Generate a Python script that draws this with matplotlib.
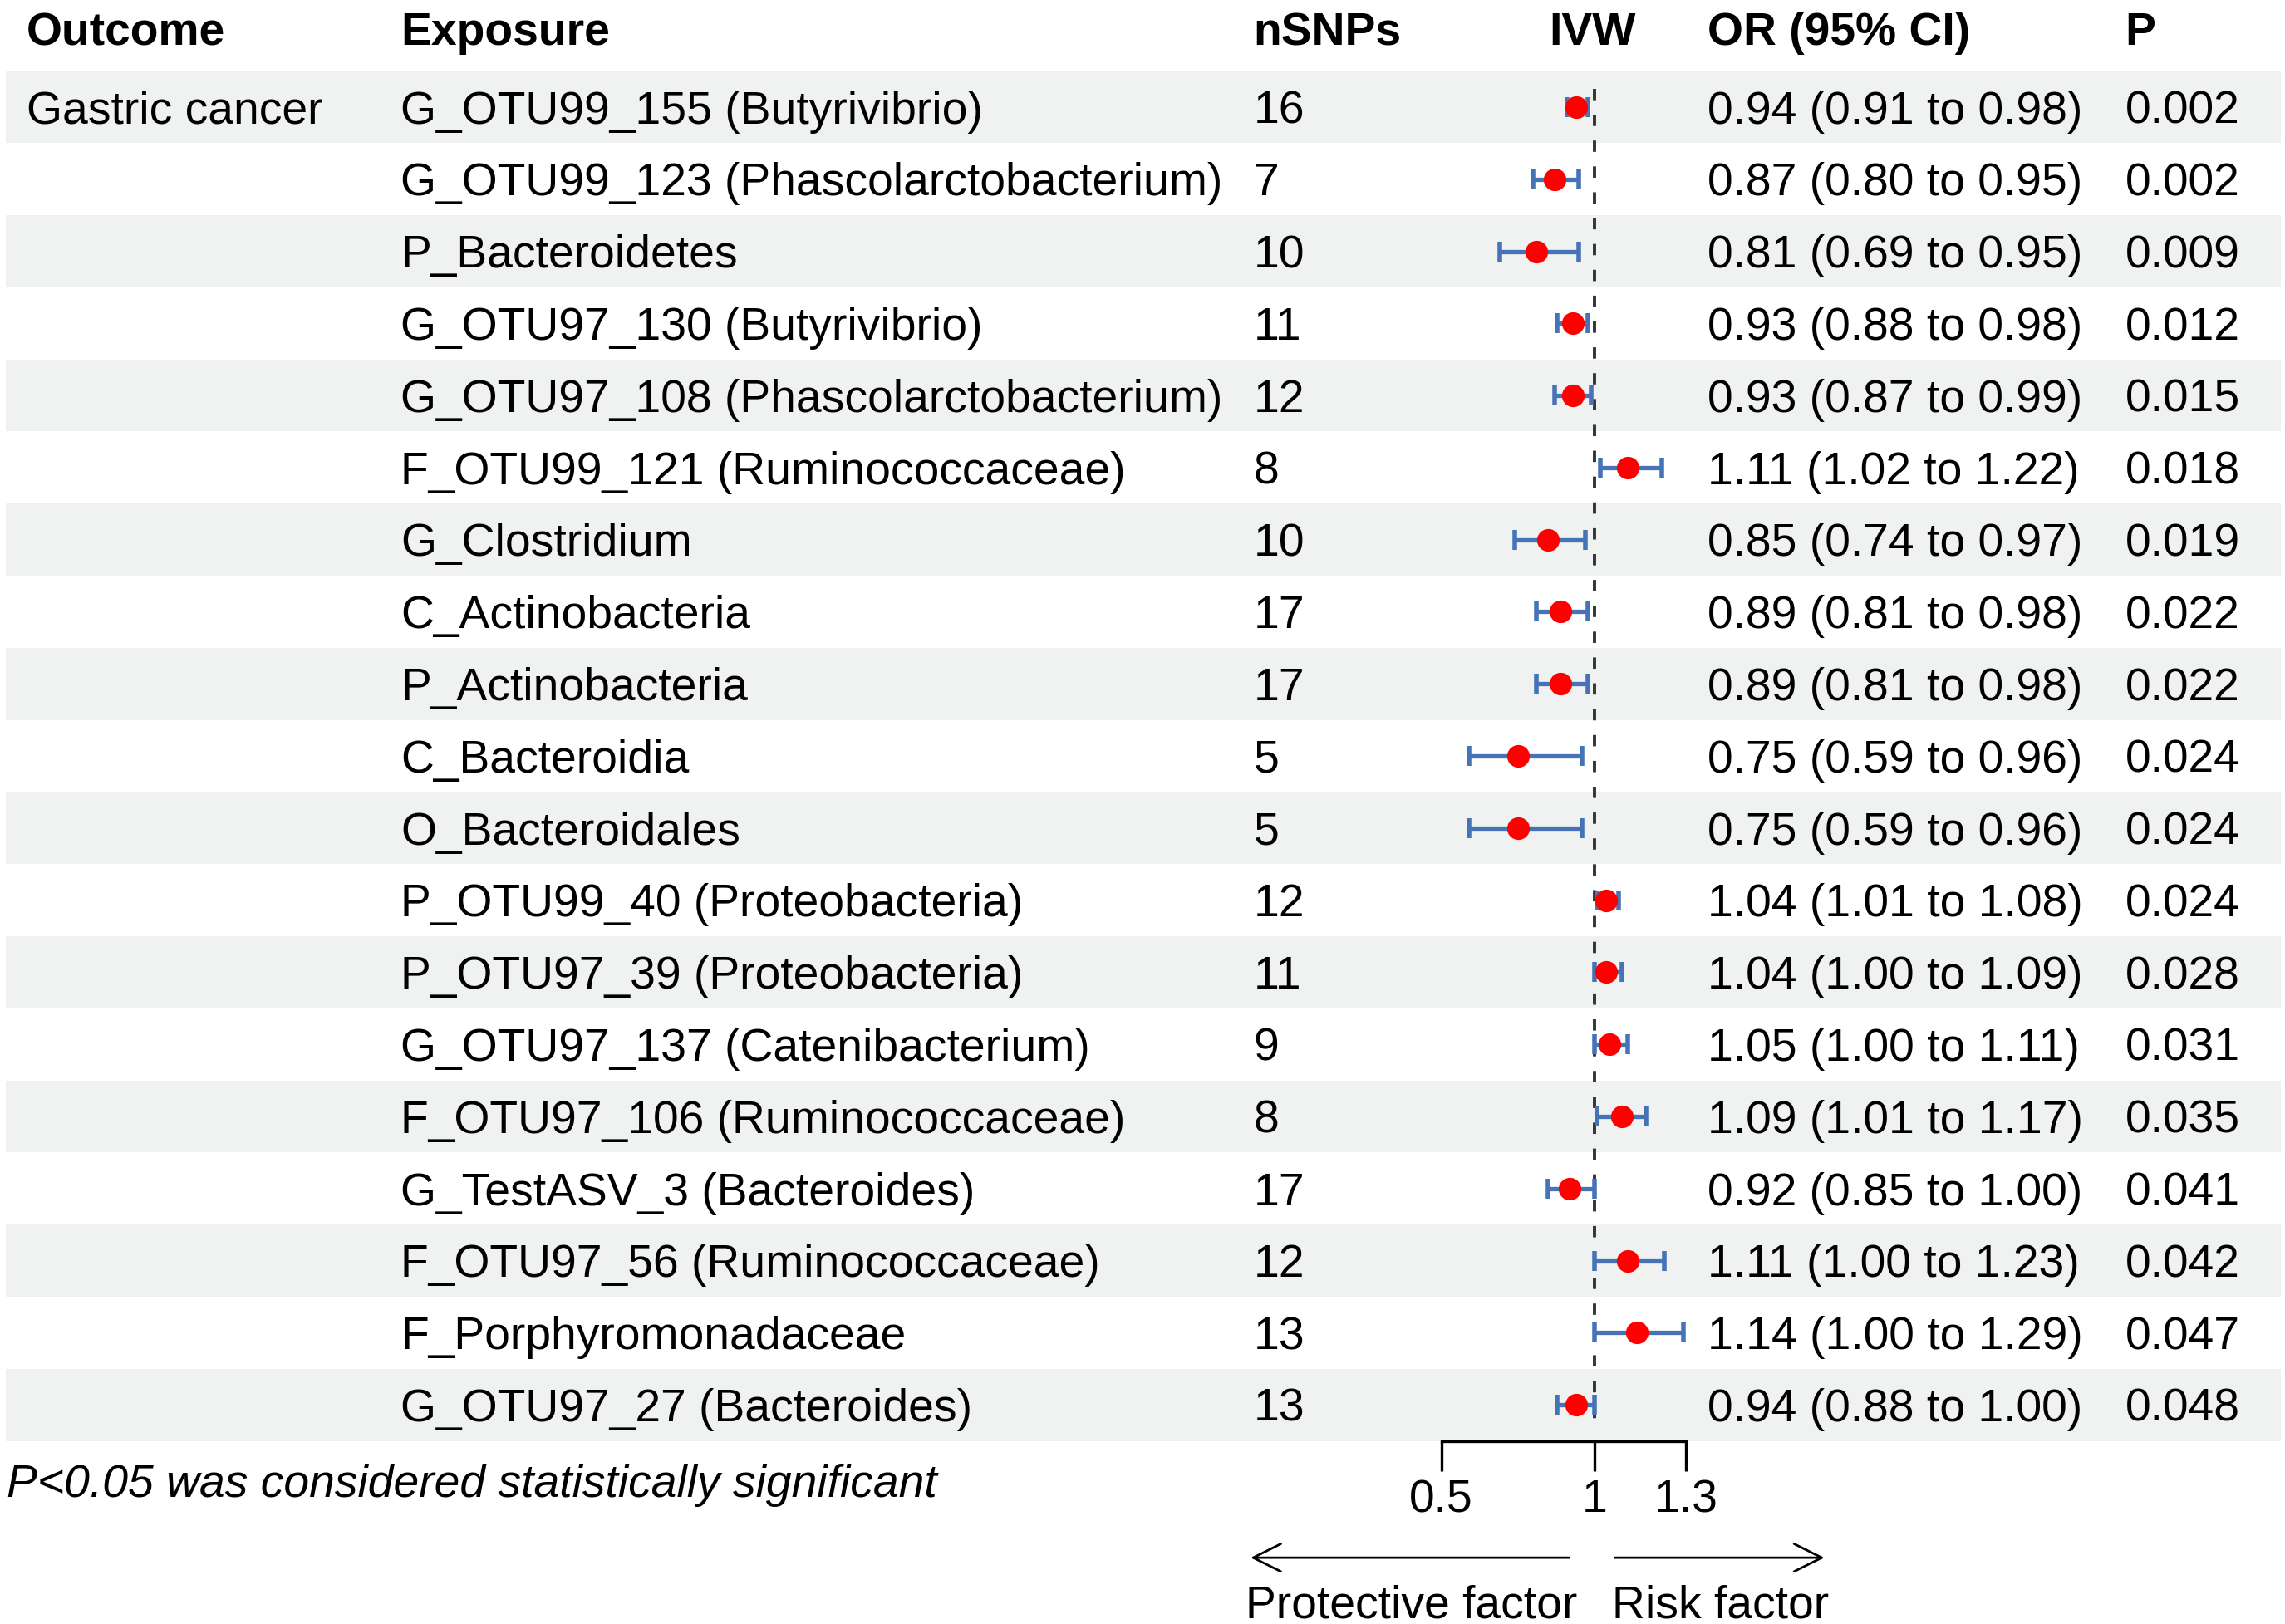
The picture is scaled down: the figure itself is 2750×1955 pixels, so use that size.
import matplotlib
matplotlib.use("Agg")
import matplotlib.pyplot as plt

plt.rcParams['font.family'] = ['Liberation Sans', 'DejaVu Sans']

# data
outcome = "Gastric cancer"
exposures = [
    "G_OTU99_155 (Butyrivibrio)", "G_OTU99_123 (Phascolarctobacterium)",
    "P_Bacteroidetes", "G_OTU97_130 (Butyrivibrio)",
    "G_OTU97_108 (Phascolarctobacterium)", "F_OTU99_121 (Ruminococcaceae)",
    "G_Clostridium", "C_Actinobacteria", "P_Actinobacteria", "C_Bacteroidia",
    "O_Bacteroidales", "P_OTU99_40 (Proteobacteria)",
    "P_OTU97_39 (Proteobacteria)", "G_OTU97_137 (Catenibacterium)",
    "F_OTU97_106 (Ruminococcaceae)", "G_TestASV_3 (Bacteroides)",
    "F_OTU97_56 (Ruminococcaceae)", "F_Porphyromonadaceae",
    "G_OTU97_27 (Bacteroides)",
]
nsnps = [16, 7, 10, 11, 12, 8, 10, 17, 17, 5, 5, 12, 11, 9, 8, 17, 12, 13, 13]
odds = [0.94, 0.87, 0.81, 0.93, 0.93, 1.11, 0.85, 0.89, 0.89, 0.75,
        0.75, 1.04, 1.04, 1.05, 1.09, 0.92, 1.11, 1.14, 0.94]
ci_lo = [0.91, 0.80, 0.69, 0.88, 0.87, 1.02, 0.74, 0.81, 0.81, 0.59,
         0.59, 1.01, 1.00, 1.00, 1.01, 0.85, 1.00, 1.00, 0.88]
ci_hi = [0.98, 0.95, 0.95, 0.98, 0.99, 1.22, 0.97, 0.98, 0.98, 0.96,
         0.96, 1.08, 1.09, 1.11, 1.17, 1.00, 1.23, 1.29, 1.00]
pvals = ["0.002", "0.002", "0.009", "0.012", "0.015", "0.018", "0.019",
         "0.022", "0.022", "0.024", "0.024", "0.024", "0.028", "0.031",
         "0.035", "0.041", "0.042", "0.047", "0.048"]
headers = ["Outcome", "Exposure", "nSNPs", "IVW", "OR (95% CI)", "P"]
ticks = [0.5, 1, 1.3]

n = len(exposures)
rows = list(range(n))

fig = plt.figure(figsize=(13.75, 9.78), dpi=200)
ax = fig.add_axes([0, 0, 1, 1])
ax.set_xlim(-4.2095, 3.2571)
ax.set_ylim(21.04, -1.497)
ax.axis('off')
tr = ax.get_yaxis_transform()  # x in axes fraction, y in row units

fs = 19.9
dy = 0.055  # small nudge so text sits on the row centre like the original

# zebra bands
for i in rows:
    if i % 2 == 0:
        ax.axhspan(i - 0.5, i + 0.5, xmin=0.0026, xmax=0.998,
                   color='#eff2f1', lw=0, zorder=0)

# header
col_x = [0.0115, 0.1754, 0.5485, 0.697, 0.7474, 0.930]
for h, x in zip(headers, col_x):
    ax.text(x, -1.09 + dy, h, transform=tr, fontsize=fs, fontweight='bold',
            ha='center' if h == "IVW" else 'left', va='center')

# table body
ax.text(col_x[0], dy, outcome, transform=tr, fontsize=fs, va='center')
for i in rows:
    ax.text(col_x[1], i + dy, exposures[i], transform=tr, fontsize=fs, va='center')
    ax.text(col_x[2], i + dy, str(nsnps[i]), transform=tr, fontsize=fs, va='center')
    ci = "%.2f (%.2f to %.2f)" % (odds[i], ci_lo[i], ci_hi[i])
    ax.text(col_x[4], i + dy, ci, transform=tr, fontsize=fs, va='center')
    ax.text(col_x[5], i + dy, pvals[i], transform=tr, fontsize=fs, va='center')

# forest
ax.plot([1, 1], [-0.25, n - 1 + 0.28], color='#333333', lw=1.4,
        ls=(0, (3.5, 4.5)), zorder=2)
xerr = [[o - l for o, l in zip(odds, ci_lo)], [h - o for o, h in zip(odds, ci_hi)]]
ax.errorbar(odds, rows, xerr=xerr, fmt='none', ecolor='#4673b8',
            elinewidth=1.9, capsize=4.4, capthick=2.0, zorder=3)
ax.plot(odds, rows, 'o', color='#ff0000', markersize=9.8, mec='none', zorder=4)

# bottom axis
ybase = n - 0.5
ax.plot([ticks[0], ticks[-1]], [ybase, ybase], color='black', lw=1.2)
ax.vlines(ticks, ybase, ybase + 0.42, color='black', lw=1.2)
for t in ticks:
    ax.text(t, ybase + 0.76 + dy, "%g" % t, fontsize=fs, ha='center', va='center')

# direction arrows
ya = ybase + 1.62
ax.annotate("", xy=(-0.138, ya), xytext=(0.933, ya),
            arrowprops=dict(arrowstyle='->', lw=1.0, color='black',
                            mutation_scale=30))
ax.annotate("", xy=(1.767, ya), xytext=(1.052, ya),
            arrowprops=dict(arrowstyle='->', lw=1.0, color='black',
                            mutation_scale=30))
ax.text(0.945, ya + 0.61 + dy, "Protective factor", fontsize=fs, ha='right', va='center')
ax.text(1.057, ya + 0.61 + dy, "Risk factor", fontsize=fs, ha='left', va='center')

ax.text(0.003, ybase + 0.55 + dy, "P<0.05 was considered statistically significant",
        transform=tr, fontsize=fs, style='italic', va='center')

fig.savefig("out.png", dpi=200, facecolor='white')
